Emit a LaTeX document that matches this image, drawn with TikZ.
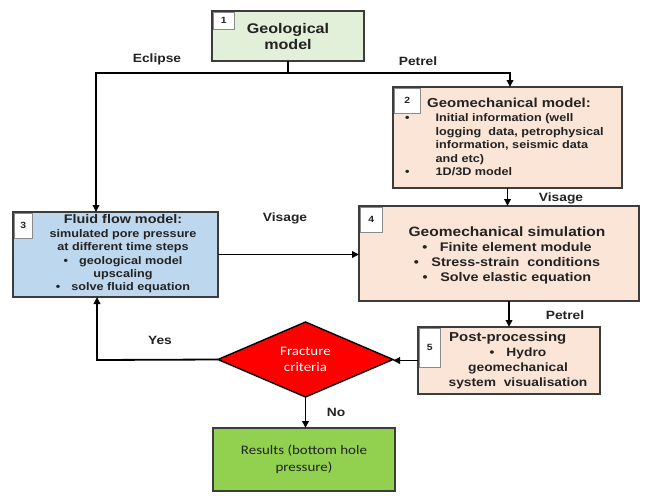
\documentclass[tikz,border=0pt]{standalone}
\usepackage{fontspec}
\setmainfont[FakeStretch=1.15]{Liberation Sans}
\newfontfamily\calibrifont[FakeStretch=1.15]{Carlito}
\usetikzlibrary{arrows.meta,shapes.geometric}
\definecolor{HmDark}{RGB}{60,60,60}
\definecolor{HmInk}{RGB}{35,35,35}
\definecolor{HmMoss}{RGB}{226,239,217}
\definecolor{HmPeach}{RGB}{251,229,214}
\definecolor{HmSky}{RGB}{189,215,238}
\definecolor{HmRed}{RGB}{255,0,0}
\definecolor{HmLeaf}{RGB}{146,208,80}
\tikzset{
  hm/box/.style={
    draw=HmDark,
    line width=2.6pt,
    inner sep=0pt,
    outer sep=0pt,
    align=center,
    text=HmInk
  },
  hm/num/.style={
    draw=HmDark!60,
    line width=0.8pt,
    fill=white,
    inner sep=0pt,
    outer sep=0pt,
    anchor=north west,
    text=HmInk,
    font=\fontsize{9}{10}\selectfont\bfseries
  },
  hm/text/.style={
    align=center,
    text=HmInk,
    inner sep=0pt
  },
  hm/decision/.style={
    diamond,
    draw=black,
    line width=1.4pt,
    fill=HmRed,
    inner sep=0pt,
    outer sep=0pt,
    minimum width=175pt,
    minimum height=67pt,
    align=center,
    text=white,
    font=\calibrifont\fontsize{13}{16}\selectfont
  },
  hm/line/.style={line width=1.8pt, draw=black},
  hm/arrow/.style={-{Triangle[length=7pt,width=6.5pt]}, line width=1.8pt, draw=black},
  hm/label/.style={font=\fontsize{12}{14}\selectfont\bfseries, text=HmInk, inner sep=0pt}
}

\begin{document}
\begin{tikzpicture}[x=1pt,y=-1pt]
  \path[use as bounding box, fill=white] (0,0) rectangle (647,495);
  % boxes
  \node[hm/box, fill=HmMoss, minimum width=152pt, minimum height=50pt,
    font=\fontsize{14}{16}\selectfont\bfseries] (geo) at (288,36) {Geological\\model};
  \node[hm/box, fill=HmPeach, minimum width=229pt, minimum height=101pt] (geomech) at (507.5,137.5) {};
  \node[hm/box, fill=HmSky, minimum width=205pt, minimum height=85pt] (flow) at (115.5,254.5) {};
  \node[hm/box, fill=HmPeach, minimum width=280pt, minimum height=95pt] (sim) at (499,253.5) {};
  \node[hm/box, fill=HmPeach, minimum width=182pt, minimum height=67pt] (post) at (509,360.5) {};
  \node[hm/decision] (crit) at (305.5,359.5) {Fracture\\criteria};
  \node[hm/box, fill=HmLeaf, minimum width=182pt, minimum height=63pt,
    font=\calibrifont\fontsize{13}{17}\selectfont] (res) at (304,459.5) {Results (bottom hole\\pressure)};
  % step numbers
  \node[hm/num, minimum width=21pt, minimum height=17pt] (num1) at ([shift={(1.3,1.3)}]geo.north west) {1};
  \node[hm/num, minimum width=26pt, minimum height=25pt] (num2) at ([shift={(1.3,1.3)}]geomech.north west) {2};
  \node[hm/num, minimum width=18pt, minimum height=25pt] (num3) at ([shift={(1.3,1.3)}]flow.north west) {3};
  \node[hm/num, minimum width=22pt, minimum height=25pt] (num4) at ([shift={(1.3,1.3)}]sim.north west) {4};
  \node[hm/num, minimum width=21pt, minimum height=39pt] (num5) at ([shift={(1.3,1.3)}]post.north west) {5};
  % box texts
  \node[hm/text, anchor=west, font=\fontsize{13}{15}\selectfont\bfseries] (geomech-title) at (427,103) {Geomechanical model:};
  \node[hm/text, anchor=north west, align=left, font=\fontsize{11}{13.5}\selectfont\bfseries] (geomech-list) at (405,112)
    {\begin{tabular}{@{}l@{\hspace{26pt}}l@{}}
      \textbullet & Initial information (well\\
                  & logging\ \ data, petrophysical\\
                  & information, seismic data\\
                  & and etc)\\
      \textbullet & 1D/3D model
    \end{tabular}};
  \node[hm/text, font=\fontsize{11}{13.4}\selectfont\bfseries] (flow-text) at (123,254)
    {{\fontsize{12.5}{13.4}\selectfont Fluid flow model:}\\
     simulated pore pressure\\
     at different time steps\\
     \textbullet\quad geological model\\
     upscaling\\
     \textbullet\quad solve fluid equation};
  \node[hm/text, font=\fontsize{12.5}{15}\selectfont\bfseries] (sim-text) at (507,255.5)
    {{\fontsize{13.5}{15}\selectfont Geomechanical simulation}\\
     \textbullet\quad Finite element module\\
     \textbullet\quad Stress-strain\ \ conditions\\
     \textbullet\quad Solve elastic equation};
  \node[hm/text, anchor=west, font=\fontsize{13}{15}\selectfont\bfseries] (post-title) at (449,338) {Post-processing};
  \node[hm/text, font=\fontsize{12}{15}\selectfont\bfseries] (post-text) at (518,368)
    {\textbullet\quad Hydro\\
     geomechanical\\
     system\ \ visualisation};
  % connectors
  \coordinate (split) at (288,73);
  \coordinate (split-l) at (96,73);
  \coordinate (split-r) at (510,73);
  \coordinate (back) at (97,360);
  \draw[hm/line] (geo.south) -- (split);
  \draw[hm/arrow] (split) -- (split-l) -- (split-l |- flow.north);
  \draw[hm/arrow] (split) -- (split-r) -- (split-r |- geomech.north);
  \draw[hm/arrow] (geomech.south) -- (geomech.south |- sim.north);
  \draw[hm/arrow] (flow.east) -- (flow.east -| sim.west);
  \draw[hm/arrow] (post.north |- sim.south) -- (post.north);
  \draw[hm/arrow] (post.west) -- (post.west -| crit.east);
  \draw[hm/arrow] (crit.west) -- (back) -- (back |- flow.south);
  \draw[hm/arrow] (crit.south) -- (crit.south |- res.north);
  % tool labels
  \node[hm/label] (lbl-eclipse) at (157,59) {Eclipse};
  \node[hm/label] (lbl-petrel1) at (418,61) {Petrel};
  \node[hm/label] (lbl-visage1) at (561,198) {Visage};
  \node[hm/label] (lbl-visage2) at (285,218) {Visage};
  \node[hm/label] (lbl-petrel2) at (565,315) {Petrel};
  \node[hm/label] (lbl-yes) at (160,340) {Yes};
  \node[hm/label] (lbl-no) at (336,412) {No};
\end{tikzpicture}
\end{document}
